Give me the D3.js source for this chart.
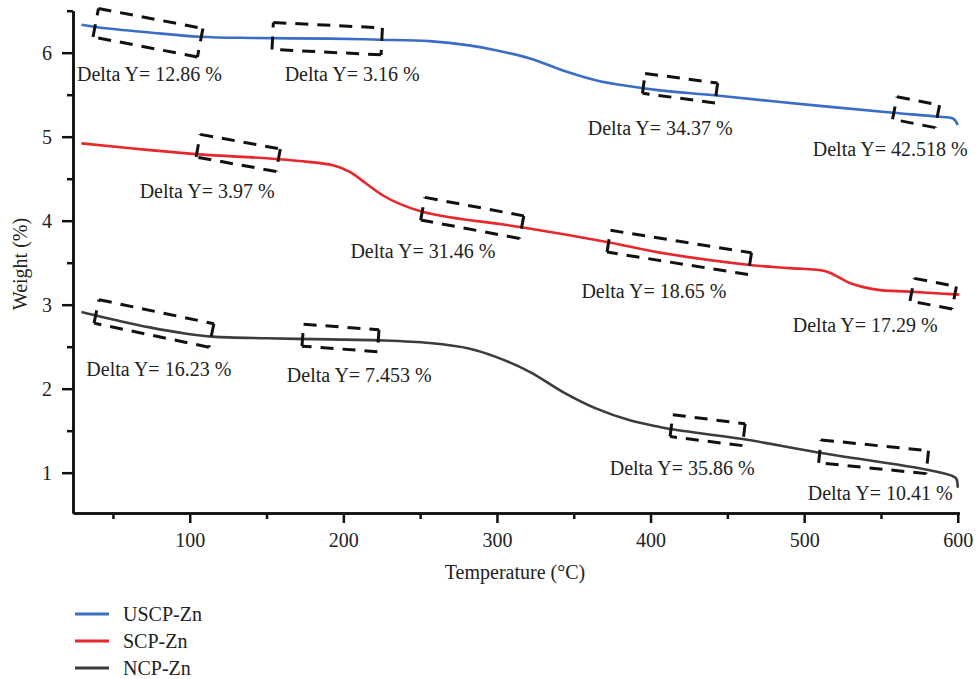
<!DOCTYPE html>
<html>
<head>
<meta charset="utf-8">
<script src="https://cdn.jsdelivr.net/npm/d3@7"></script>
<style>
  html, body { margin: 0; padding: 0; background: #fff; }
  svg { display: block; font-family: "Liberation Serif", "Times New Roman", serif; }
</style>
</head>
<body>
<svg id="chart" width="977" height="679"></svg>
<script>
// Thermogravimetric curves: [temperature °C, weight %]
const uscpZn = [
  [29.5, 6.333], [41, 6.30], [74, 6.24], [106.5, 6.19], [142, 6.175], [191, 6.167],
  [224, 6.155], [256, 6.138], [282, 6.087], [300, 6.027], [322, 5.929], [343, 5.789],
  [365, 5.67], [386.5, 5.60], [406, 5.551], [443, 5.49], [500, 5.385], [558, 5.286],
  [586, 5.24], [597, 5.215], [600, 5.14]
];
const scpZn = [
  [29.5, 4.92], [74, 4.84], [106.5, 4.79], [152, 4.74], [171.4, 4.71], [193.3, 4.66],
  [204.2, 4.58], [215, 4.44], [225.8, 4.30], [236.7, 4.20], [250.8, 4.11], [269.3, 4.04],
  [301.8, 3.96], [315, 3.925], [373.4, 3.74], [406, 3.62], [466, 3.47], [490.6, 3.435],
  [514.5, 3.396], [529.7, 3.258], [547, 3.179], [568.8, 3.155], [601, 3.12]
];
const ncpZn = [
  [29.5, 2.913], [39.3, 2.87], [74, 2.73], [97.9, 2.655], [115, 2.62], [150, 2.60],
  [191, 2.587], [223.7, 2.575], [256.3, 2.543], [282.3, 2.476], [299.7, 2.376],
  [321.6, 2.198], [343, 1.96], [364.8, 1.762], [386.5, 1.623], [406, 1.543], [412.5, 1.52],
  [460, 1.40], [510, 1.238], [580, 1.036], [596, 0.965], [599, 0.93], [600, 0.82]
];

const seriesNames = ["USCP-Zn", "SCP-Zn", "NCP-Zn"];
const seriesData = [uscpZn, scpZn, ncpZn];

// Axis ticks
const xMajorTicks = [100, 200, 300, 400, 500, 600];
const xMinorTicks = [50, 150, 250, 350, 450, 550];
const yMajorTicks = [1, 2, 3, 4, 5, 6];
const yMinorTicks = [1.5, 2.5, 3.5, 4.5, 5.5, 6.5];

// Weight-loss regions: centerline from (t0, w0) to (t1, w1)
const lossRegions = [
  [38.8, 6.357, 106.8, 6.119],
  [154.0, 6.199, 225.0, 6.135],
  [395.6, 5.635, 442.8, 5.520],
  [559.0, 5.342, 586.7, 5.242],
  [105.5, 4.893, 157.6, 4.720],
  [251.7, 4.143, 316.1, 3.923],
  [372.8, 3.756, 464.6, 3.488],
  [570.3, 3.179, 597.7, 3.083],
  [39.3, 2.920, 114.1, 2.633],
  [173.6, 2.637, 222.7, 2.571],
  [413.6, 1.560, 460.7, 1.452],
  [510.2, 1.254, 580.2, 1.125]
];
const regionHeights = [29, 27, 20, 23, 23, 23, 22, 23, 24, 22, 22, 23];

// Delta Y labels: [temperature, weight, text]
const deltaLabels = [
  [26.6, 5.667, "Delta Y= 12.86 %"],
  [161.8, 5.667, "Delta Y= 3.16 %"],
  [359.1, 5.024, "Delta Y= 34.37 %"],
  [505.6, 4.766, "Delta Y= 42.518 %"],
  [67.4, 4.274, "Delta Y= 3.97 %"],
  [204.6, 3.560, "Delta Y= 31.46 %"],
  [355.0, 3.083, "Delta Y= 18.65 %"],
  [492.6, 2.670, "Delta Y= 17.29 %"],
  [32.7, 2.146, "Delta Y= 16.23 %"],
  [163.2, 2.083, "Delta Y= 7.453 %"],
  [373.4, 0.976, "Delta Y= 35.86 %"],
  [502.3, 0.670, "Delta Y= 10.41 %"]
];

const colors = ["#3a6ec6", "#e8262b", "#3c3c3c"];

const svg = d3.select("#chart");
svg.append("rect").attr("width", 977).attr("height", 679).attr("fill", "#fff");

const x = d3.scaleLinear().domain([24, 601]).range([73, 959.3]);
const y = d3.scaleLinear().domain([0.52, 6.5]).range([513, 10.7]);

// Curves
const line = d3.line()
  .x(d => x(d[0]))
  .y(d => y(d[1]))
  .curve(d3.curveCatmullRom.alpha(0.5));

svg.append("g").selectAll("path")
  .data(seriesData)
  .join("path")
  .attr("d", line)
  .attr("fill", "none")
  .attr("stroke", (d, i) => colors[i])
  .attr("stroke-width", 2.6)
  .attr("stroke-linejoin", "round");

// Dashed rectangles around each weight-loss step
const boxG = svg.append("g")
  .attr("stroke", "#111")
  .attr("stroke-width", 3)
  .attr("stroke-dasharray", "13 9")
  .attr("fill", "none");

lossRegions.forEach((r, i) => {
  const p0 = [x(r[0]), y(r[1])];
  const p1 = [x(r[2]), y(r[3])];
  const dx = p1[0] - p0[0], dy = p1[1] - p0[1];
  const len = Math.hypot(dx, dy);
  const h = regionHeights[i] / 2;
  const nx = -dy / len * h, ny = dx / len * h;
  const tl = [p0[0] - nx, p0[1] - ny];
  const tr = [p1[0] - nx, p1[1] - ny];
  const br = [p1[0] + nx, p1[1] + ny];
  const bl = [p0[0] + nx, p0[1] + ny];
  [[tl, tr], [tr, br], [br, bl], [bl, tl]].forEach(([a, b]) => {
    boxG.append("line")
      .attr("x1", a[0]).attr("y1", a[1])
      .attr("x2", b[0]).attr("y2", b[1]);
  });
});

// Labels
svg.append("g").selectAll("text")
  .data(deltaLabels)
  .join("text")
  .attr("x", d => x(d[0]))
  .attr("y", d => y(d[1]))
  .attr("font-size", 20)
  .attr("fill", "#222")
  .text(d => d[2]);

// Axes
function styleAxis(g) {
  g.selectAll("path.domain").attr("stroke", "#111").attr("stroke-width", 2.5);
  g.selectAll(".tick line").attr("stroke", "#111").attr("stroke-width", 2.5);
  g.selectAll(".tick text").attr("fill", "#222").attr("font-size", 20)
    .attr("font-family", "Liberation Serif, Times New Roman, serif");
}

const xAxis = svg.append("g").attr("transform", "translate(0,513)")
  .call(d3.axisBottom(x).tickValues(xMajorTicks).tickSize(10).tickSizeOuter(0)
    .tickPadding(10).tickFormat(d3.format("d")));
styleAxis(xAxis);
const xMinor = svg.append("g").attr("transform", "translate(0,513)")
  .call(d3.axisBottom(x).tickValues(xMinorTicks).tickSize(6).tickSizeOuter(0).tickFormat(""));
styleAxis(xMinor);

const yAxis = svg.append("g").attr("transform", "translate(73,0)")
  .call(d3.axisLeft(y).tickValues(yMajorTicks).tickSize(11).tickSizeOuter(0)
    .tickPadding(10).tickFormat(d3.format("d")));
styleAxis(yAxis);
const yMinor = svg.append("g").attr("transform", "translate(73,0)")
  .call(d3.axisLeft(y).tickValues(yMinorTicks).tickSize(6).tickSizeOuter(0).tickFormat(""));
styleAxis(yMinor);

// Axis titles
svg.append("text")
  .attr("x", 515).attr("y", 579)
  .attr("text-anchor", "middle")
  .attr("font-size", 20).attr("fill", "#222")
  .text("Temperature (°C)");

svg.append("text")
  .attr("transform", "translate(27,264) rotate(-90)")
  .attr("text-anchor", "middle")
  .attr("font-size", 20).attr("fill", "#222")
  .text("Weight (%)");

// Legend
const legendY = [614, 641, 668];
const legend = svg.append("g");
seriesNames.forEach((name, i) => {
  legend.append("line")
    .attr("x1", 75).attr("x2", 109)
    .attr("y1", legendY[i]).attr("y2", legendY[i])
    .attr("stroke", colors[i]).attr("stroke-width", 3);
  legend.append("text")
    .attr("x", 123).attr("y", legendY[i] + 7)
    .attr("font-size", 20).attr("fill", "#222")
    .text(name);
});
</script>
</body>
</html>
